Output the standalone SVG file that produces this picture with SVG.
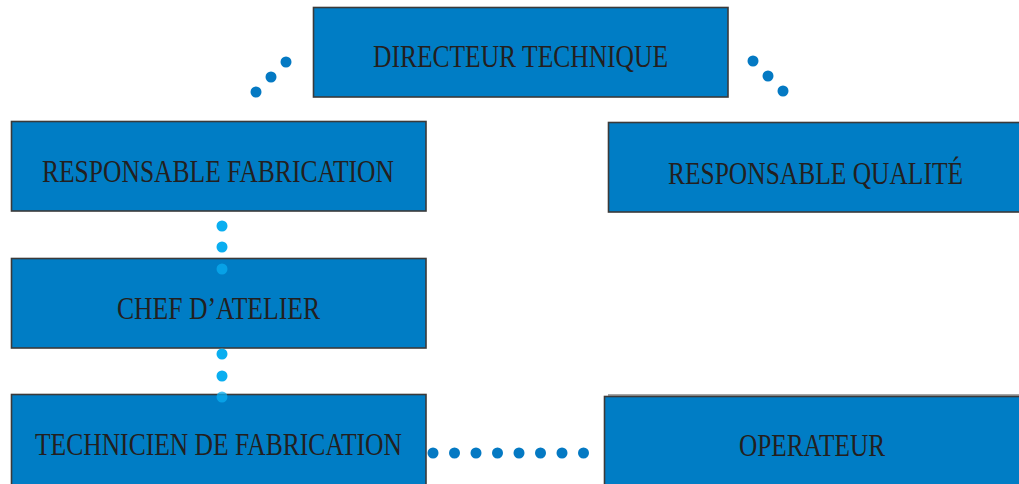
<svg xmlns="http://www.w3.org/2000/svg" width="1019" height="484" viewBox="0 0 1019 484">
<style>
.box{fill:#007dc5;stroke:#3a3a3a;stroke-width:1.6}
.lbl{font-family:"Liberation Serif","Times New Roman",serif;font-size:31px;fill:#231f20}
.d{fill:#0479c3}
.l{fill:#0aaef0}
</style>
<rect width="1019" height="484" fill="#fff"/>
<g id="directeur"><rect class="box" x="313.5" y="7.5" width="414.5" height="89.5"/><text class="lbl" x="373" y="67" textLength="295" lengthAdjust="spacingAndGlyphs">DIRECTEUR TECHNIQUE</text></g>
<g id="resp-fab"><rect class="box" x="11.5" y="121.5" width="414.5" height="89.5"/><text class="lbl" x="42" y="182" textLength="352" lengthAdjust="spacingAndGlyphs">RESPONSABLE FABRICATION</text></g>
<g id="resp-qual"><rect class="box" x="608.5" y="122.5" width="412" height="89.5"/><text class="lbl" x="668" y="184" textLength="295" lengthAdjust="spacingAndGlyphs">RESPONSABLE QUALITÉ</text></g>
<g id="chef"><rect class="box" x="11.5" y="258.5" width="414.5" height="89.5"/><text class="lbl" x="117" y="319" textLength="203" lengthAdjust="spacingAndGlyphs">CHEF D’ATELIER</text></g>
<g id="technicien"><rect class="box" x="11.5" y="394.5" width="414.5" height="92"/><text class="lbl" x="35" y="455" textLength="367" lengthAdjust="spacingAndGlyphs">TECHNICIEN DE FABRICATION</text></g>
<g id="operateur"><line x1="608" y1="395" x2="1019" y2="395" stroke="#888" stroke-width="1.5"/><rect class="box" x="604.5" y="396.5" width="416" height="90"/><text class="lbl" x="739" y="456" textLength="146" lengthAdjust="spacingAndGlyphs">OPERATEUR</text></g>
<g id="connectors">
<circle class="d" cx="256" cy="92" r="5.5"/><circle class="d" cx="271" cy="77" r="5.5"/><circle class="d" cx="286" cy="62" r="5.5"/>
<circle class="d" cx="753" cy="61" r="5.5"/><circle class="d" cx="768" cy="76" r="5.5"/><circle class="d" cx="783" cy="91" r="5.5"/>
<circle class="l" cx="222" cy="226" r="5.5"/><circle class="l" cx="222" cy="247" r="5.5"/><circle class="l" cx="222" cy="269" r="5.5" opacity="0.75"/>
<circle class="l" cx="222" cy="354" r="5.5"/><circle class="l" cx="222" cy="376" r="5.5"/><circle class="l" cx="222" cy="397" r="5.5" opacity="0.75"/>
<circle class="d" cx="433" cy="453" r="5.5"/><circle class="d" cx="454.5" cy="453" r="5.5"/><circle class="d" cx="476" cy="453" r="5.5"/><circle class="d" cx="497.5" cy="453" r="5.5"/><circle class="d" cx="519" cy="453" r="5.5"/><circle class="d" cx="540.5" cy="453" r="5.5"/><circle class="d" cx="562" cy="453" r="5.5"/><circle class="d" cx="583.5" cy="453" r="5.5"/>
</g>
</svg>
